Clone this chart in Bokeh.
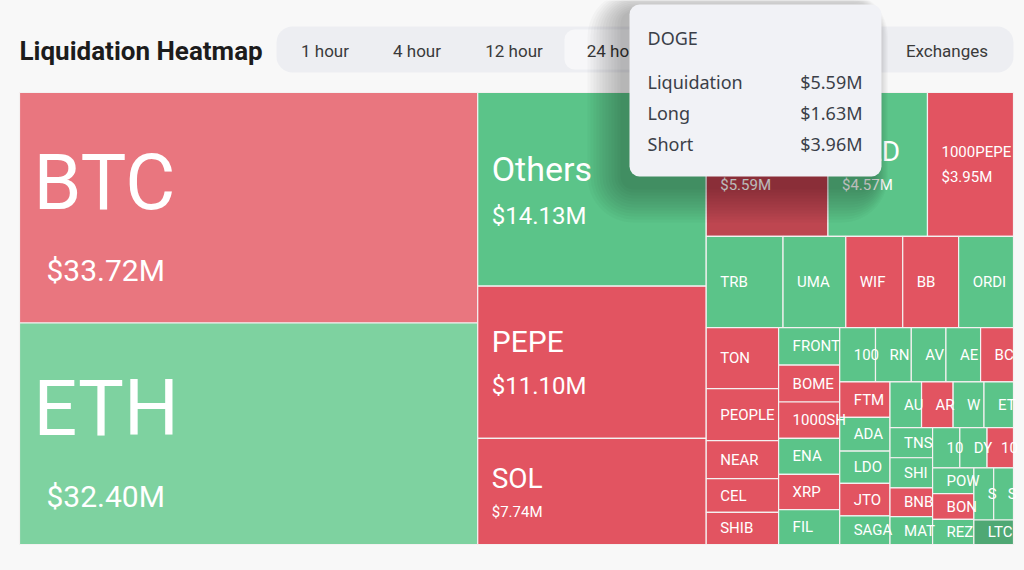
from bokeh.plotting import figure
from bokeh.models import Range1d, BoxAnnotation, ColumnDataSource
from bokeh.core.properties import value
from bokeh.embed import file_html
from bokeh.resources import INLINE

# ---------------- data ----------------
coins = ["BTC", "ETH", "Others", "PEPE", "SOL", "DOGE", "WLD", "1000PEPE",
         "TRB", "UMA", "WIF", "BB", "ORDI",
         "TON", "PEOPLE", "NEAR", "CEL", "SHIB",
         "FRONT", "BOME", "1000SH", "ENA", "XRP", "FIL",
         "100", "RN", "AV", "AE", "BC",
         "FTM", "ADA", "LDO", "JTO", "SAGA",
         "AU", "AR", "W", "ET",
         "TNS", "SHI", "BNB", "MAT",
         "10", "DY", "10",
         "POW", "BON", "REZ",
         "S", "S", "LTC"]
liquidation_musd = [33.72, 32.40, 14.13, 11.10, 7.74, 5.59, 4.57, 3.95,
                    2.24, 1.83, 1.66, 1.63, 1.60,
                    1.41, 1.20, 0.88, 0.78, 0.74,
                    0.73, 0.72, 0.71, 0.70, 0.69, 0.68,
                    0.62, 0.62, 0.60, 0.60, 0.57,
                    0.57, 0.54, 0.52, 0.52, 0.46,
                    0.46, 0.46, 0.45, 0.43,
                    0.41, 0.41, 0.39, 0.38,
                    0.35, 0.35, 0.34,
                    0.34, 0.34, 0.33,
                    0.33, 0.33, 0.31]
dominant = ["short", "long", "long", "short", "short", "short", "long", "short",
            "long", "long", "short", "short", "long",
            "short", "short", "short", "short", "short",
            "long", "short", "short", "long", "short", "long",
            "long", "long", "long", "long", "short",
            "short", "long", "long", "short", "long",
            "long", "short", "long", "long",
            "long", "long", "short", "long",
            "long", "long", "short",
            "long", "short", "long",
            "long", "long", "long"]

tabs = ["1 hour", "4 hour", "12 hour", "24 hour", "Exchanges"]
title_text = "Liquidation Heatmap"

tooltip_coin = "DOGE"
tooltip_labels = ["Liquidation", "Long", "Short"]
tooltip_values = [5.59, 1.63, 3.96]

# ---------------- style ----------------
BG = "#F8F8F8"
RED = "#E25461"
GREEN = "#5BC489"
shade = {"BTC": "#E9767F", "ETH": "#7ED2A0", "LTC": "#4FA874", "DOGE": "#BE4650"}
LABEL_FONT = value("Roboto")
TIP_FONT = value("Noto Sans")

W_PAGE, H_PAGE = 1024, 570
p = figure(width=W_PAGE, height=H_PAGE, output_backend="svg", toolbar_location=None,
           x_range=Range1d(0, W_PAGE), y_range=Range1d(H_PAGE, 0),
           x_axis_type=None, y_axis_type=None, min_border=0)
p.grid.visible = False
p.outline_line_color = None
p.background_fill_color = BG
p.border_fill_color = BG

# ---------------- treemap layout (squarify, golden ratio like ECharts) -------------
TX, TY, TW, TH = 19, 92, 994, 452


def squarify(vals, x0, y0, w, h, ratio=(1 + 5 ** 0.5) / 2):
    total = float(sum(vals))
    areas = [v / total * w * h for v in vals]
    order = sorted(range(len(vals)), key=lambda i: -vals[i])
    rect = {"x": x0, "y": y0, "w": w, "h": h}
    out = [None] * len(vals)

    def worst(row, row_area, fixed):
        amax = max(areas[i] for i in row)
        amin = min(areas[i] for i in row)
        sq = row_area * row_area
        f = fixed * fixed * ratio
        return max(f * amax / sq, sq / (f * amin)) if sq else float("inf")

    def position(row, row_area, fixed, flush):
        horiz = fixed == rect["w"]
        a, al, o, ol = ("x", "w", "y", "h") if horiz else ("y", "h", "x", "w")
        last = rect[a]
        other = row_area / fixed if fixed else 0
        if flush or other > rect[ol]:
            other = rect[ol]
        for k, idx in enumerate(row):
            step = areas[idx] / other if other else 0
            remain = rect[a] + rect[al] - last
            mod = remain if (k == len(row) - 1 or remain < step) else step
            cell = {a: last, al: mod, o: rect[o], ol: other}
            out[idx] = (cell["x"], cell["y"], cell["w"], cell["h"])
            last += mod
        rect[o] += other
        rect[ol] -= other

    row, row_area, best = [], 0.0, float("inf")
    fixed = min(w, h)
    i = 0
    while i < len(order):
        idx = order[i]
        row.append(idx)
        row_area += areas[idx]
        score = worst(row, row_area, fixed)
        if score <= best:
            i += 1
            best = score
        else:
            row.pop()
            row_area -= areas[idx]
            position(row, row_area, fixed, False)
            fixed = min(rect["w"], rect["h"])
            row, row_area, best = [], 0.0, float("inf")
    if row:
        position(row, row_area, fixed, True)
    return out


cells = squarify(liquidation_musd, TX, TY, TW, TH)

left = [c[0] for c in cells]
right = [c[0] + c[2] for c in cells]
top = [c[1] for c in cells]
bottom = [c[1] + c[3] for c in cells]
colors = [shade.get(n, RED if d == "short" else GREEN) for n, d in zip(coins, dominant)]

src = ColumnDataSource(dict(left=left, right=right, top=top, bottom=bottom, color=colors))
p.quad(left="left", right="right", top="top", bottom="bottom", fill_color="color",
       line_color="#F4F1F1", line_width=1.2, source=src)

# labels
nx, ny, nt, ns = [], [], [], []
vx, vy, vt, vs = [], [], [], []
for name, v, (x, y, w, h) in zip(coins, liquidation_musd, cells):
    area = w * h
    if area > 80000:
        fn, fv = 77, 30
    elif area > 40000:
        fn, fv = 34, 24
    elif area > 30000:
        fn, fv = 30, 24
    elif area > 13000:
        fn, fv = 28, 15
    elif area > 10000:
        fn, fv = 15, 15
    else:
        fn, fv = 15, None
    cy = y + h / 2
    big = fn > 60
    nx.append(x + 14)
    nt.append(name)
    ns.append(f"{fn}px")
    if fv:
        lhn, lhv = 1.2 * fn, 1.2 * fv
        gap = max(0.5 * fv, 0.3 * fn)
        shift = 5 if big else 0
        t0 = cy - (lhn + gap + lhv) / 2 + shift
        ny.append(t0 + lhn / 2)
        vx.append(x + (27 if big else 14))
        vy.append(t0 + lhn + gap + lhv / 2)
        vt.append(f"${v:.2f}M")
        vs.append(f"{fv}px")
    else:
        ny.append(cy)

p.text(x=nx, y=ny, text=nt, text_font_size=ns, text_font=LABEL_FONT,
       text_color="white", text_baseline="middle", text_align="left")
p.text(x=vx, y=vy, text=vt, text_font_size=vs, text_font=LABEL_FONT,
       text_color="white", text_baseline="middle", text_align="left")

# ---------------- header: title + tabs ----------------
p.text(x=[19], y=[50], text=[title_text], text_font=value("Roboto"), text_font_style="bold",
       text_font_size="26px", text_color="#1C1C1C", text_baseline="middle")

p.add_layout(BoxAnnotation(left=276, right=1013, top=26, bottom=72, fill_color="#EDEEF2",
                           fill_alpha=1, line_color=None, border_radius=16, level="underlay"))
p.add_layout(BoxAnnotation(left=564, right=666, top=29, bottom=69, fill_color="#F7F7F9",
                           fill_alpha=1, line_color=None, border_radius=10, level="underlay"))
tab_x = [324.5, 416.5, 513.5, 615, 946.5]
p.text(x=tab_x, y=[50] * len(tabs), text=tabs, text_font=value("Roboto"),
       text_font_size="17px", text_color="#3A3A3A", text_baseline="middle", text_align="center")

# ---------------- tooltip ----------------
TL, TR, TT, TB = 629, 881, 4, 176
for k in range(12, 0, -1):
    e = 3 * k
    p.add_layout(BoxAnnotation(left=TL - 6 - e, right=TR - 8 + e * 0.4, top=TT + 8 - e * 0.6,
                               bottom=TB + 10 + e, fill_color="black", fill_alpha=0.024,
                               line_color=None, border_radius=10 + e))
p.add_layout(BoxAnnotation(left=TL, right=TR, top=TT, bottom=TB, fill_color="#F1F2F6",
                           fill_alpha=1, line_color=None, border_radius=10))
r1 = p.text(x=[647], y=[37], text=[tooltip_coin], text_font=TIP_FONT, text_font_size="18px",
            text_color="#3B3F48", text_baseline="middle")
r2 = p.text(x=[647] * 3, y=[81, 112, 143], text=tooltip_labels, text_font=TIP_FONT,
            text_font_size="18px", text_color="#3B3F48", text_baseline="middle")
r3 = p.text(x=[862] * 3, y=[81, 112, 143], text=[f"${v:.2f}M" for v in tooltip_values],
            text_font=TIP_FONT, text_font_size="18px", text_color="#3B3F48",
            text_baseline="middle", text_align="right")
for r in (r1, r2, r3):
    r.level = "overlay"

html = file_html(p, INLINE)
html = html.replace("<head>", "<head><style>html,body{background:#F8F8F8;}</style>", 1)
open("out.html", "w").write(html)
